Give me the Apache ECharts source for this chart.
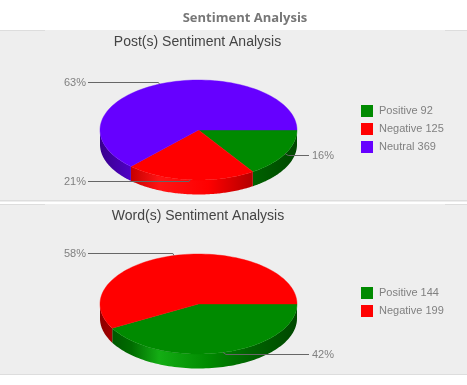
<!DOCTYPE html>
<html>
<head>
<meta charset="utf-8">
<style>html,body{margin:0;padding:0;background:#fff}#c{width:467px;height:385px}</style>
<script src="https://cdn.jsdelivr.net/npm/echarts@6/dist/echarts.min.js"></script>
</head>
<body>
<div id="c"></div>
<script>
// Data
const pageTitle = 'Sentiment Analysis';
const postTitle = 'Post(s) Sentiment Analysis';
const wordTitle = 'Word(s) Sentiment Analysis';
const postCategories = ['Positive', 'Negative', 'Neutral'];
const postValues = [92, 125, 369];
const postPercents = ['16%', '21%', '63%'];
const wordCategories = ['Positive', 'Negative'];
const wordValues = [144, 199];
const wordPercents = ['42%', '58%'];

// Styles and layout
const sliceColors = {Positive: [0, 138, 0], Negative: [255, 0, 0], Neutral: [102, 0, 255]};
const RX = 98.5, RY = 50, DEPTH = 14.5, CX = 198.5;
const shadeStops = [[0, .55], [.16, .78], [.3, 1.25], [.55, 1], [.76, .72], [1, .52]];
const postLayout = {cy: 130, labelY: [155.5, 181.5, 82.5], side: ['r', 'l', 'l']};
const wordLayout = {cy: 304, labelY: [354.5, 253.5], side: ['r', 'l']};

function rgb(c, f) {
  const extra = f > 1 ? (f - 1) * 130 : 0;
  return 'rgb(' + c.map(v => Math.min(255, Math.round(v * f + (v === 0 ? extra * .6 : 0)))).join(',') + ')';
}
function sliceSeries(cats, vals, pcts, lay) {
  const total = vals.reduce((a, b) => a + b, 0);
  let before = 0;
  return cats.map((cat, i) => {
    const start = before / total * 2 * Math.PI;
    before += vals[i];
    const color = sliceColors[cat];
    return {
      type: 'custom',
      name: cat + ' ' + vals[i],
      coordinateSystem: 'none',
      silent: true,
      animation: false,
      itemStyle: {color: rgb(color, 1)},
      data: [[vals[i]]],
      renderItem: function (params, api) {
        const end = start + api.value(0) / total * 2 * Math.PI;
        const cy = lay.cy;
        const pt = (a, dy) => [CX + RX * Math.cos(a), cy + RY * Math.sin(a) + dy];
        const steps = 90;
        const top = [[CX, cy]];
        for (let k = 0; k <= steps; k++) top.push(pt(start + (end - start) * k / steps, 0));
        const children = [];
        const s0 = Math.max(start, 0), s1 = Math.min(end, Math.PI);
        if (s1 > s0) {
          const rim = [], low = [];
          for (let k = 0; k <= steps; k++) {
            const a = s0 + (s1 - s0) * k / steps;
            rim.push(pt(a, 0));
            low.unshift(pt(a, DEPTH));
          }
          children.push({
            type: 'polygon', z2: 1,
            shape: {points: rim.concat(low)},
            style: {
              fill: {
                type: 'linear', global: true,
                x: CX - RX, y: 0, x2: CX + RX, y2: 0,
                colorStops: shadeStops.map(s => ({offset: s[0], color: rgb(color, s[1])}))
              }
            }
          });
        }
        children.push({
          type: 'polygon', z2: 2,
          shape: {points: top},
          style: {fill: rgb(color, 1), stroke: rgb(color, 1), lineWidth: .4}
        });
        const mid = (start + end) / 2;
        const anchor = pt(mid, 0);
        const ly = lay.labelY[i];
        const right = lay.side[i] === 'r';
        const endX = right ? 309 : 88;
        const elbowX = anchor[0] + (right ? 3 : -1);
        children.push({
          type: 'polyline', z2: 3,
          shape: {points: [anchor, [elbowX, ly], [endX, ly]]},
          style: {stroke: '#666', lineWidth: 1, fill: null}
        });
        children.push({
          type: 'text', z2: 4,
          style: {
            x: right ? 312 : 86, y: ly,
            text: pcts[i],
            fill: '#808080',
            font: '11px "Liberation Sans", Arial, sans-serif',
            align: right ? 'left' : 'right',
            verticalAlign: 'middle'
          }
        });
        return {type: 'group', children};
      }
    };
  });
}
const legendBase = {
  orient: 'vertical', left: 361, itemWidth: 12, itemHeight: 12, itemGap: 6,
  icon: 'rect', selectedMode: false,
  textStyle: {color: '#808080', fontSize: 11, fontFamily: '"Liberation Sans", Arial, sans-serif', padding: [0, 0, 0, 1]},
  padding: 0
};
const titleFont = '"Liberation Sans", Arial, sans-serif';
const chart = echarts.init(document.getElementById('c'), null, {renderer: 'canvas'});
const bandRect = (x, y, w, h, fill, z) => ({type: 'rect', silent: true, z: z || -10, shape: {x, y, width: w, height: h}, style: {fill}});
chart.setOption({
  animation: false,
  backgroundColor: '#fff',
  graphic: {elements: [
    bandRect(0, 30, 467, 170, '#eeeeee'),
    bandRect(0, 30, 45, 1, '#dddddd', -9),
    bandRect(445, 30, 22, 1, '#dddddd', -9),
    bandRect(0, 200, 467, 1.5, '#dddddd', -9),
    bandRect(0, 204, 467, 170, '#eeeeee'),
    bandRect(0, 204, 45, 1, '#dddddd', -9),
    bandRect(445, 204, 22, 1, '#dddddd', -9),
    bandRect(0, 374, 467, 1, '#dddddd', -9)
  ]},
  title: [
    {text: pageTitle, left: 245, top: 12, textAlign: 'center', padding: 0,
      textStyle: {fontFamily: '"Open Sans"', fontWeight: 'bold', fontSize: 13, color: '#777'}},
    {text: postTitle, left: 197.5, top: 35, textAlign: 'center', padding: 0,
      textStyle: {fontFamily: titleFont, fontWeight: 'normal', fontSize: 14, color: '#444'}},
    {text: wordTitle, left: 198, top: 209, textAlign: 'center', padding: 0,
      textStyle: {fontFamily: titleFont, fontWeight: 'normal', fontSize: 14, color: '#444'}}
  ],
  legend: [
    Object.assign({}, legendBase, {top: 105, data: postCategories.map((c, i) => c + ' ' + postValues[i])}),
    Object.assign({}, legendBase, {top: 287, data: wordCategories.map((c, i) => c + ' ' + wordValues[i])})
  ],
  series: sliceSeries(postCategories, postValues, postPercents, postLayout)
    .concat(sliceSeries(wordCategories, wordValues, wordPercents, wordLayout))
});
</script>
</body>
</html>
